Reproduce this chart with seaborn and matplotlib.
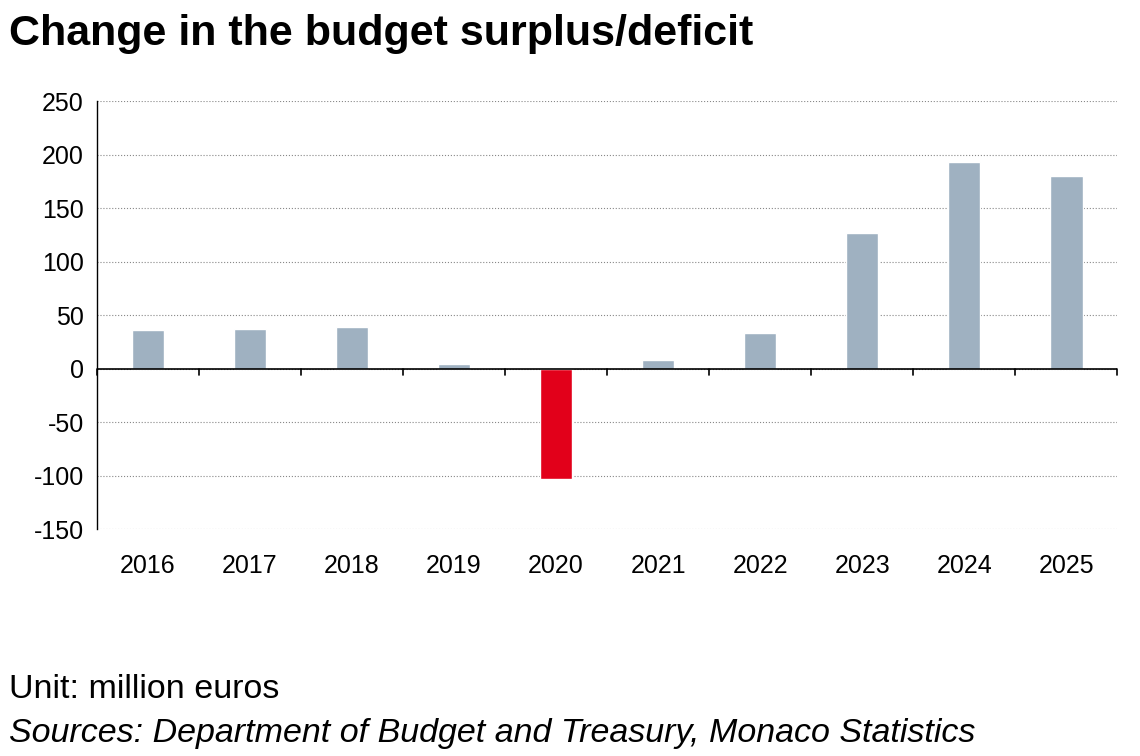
import matplotlib
matplotlib.use("Agg")
import matplotlib.pyplot as plt
import seaborn as sns
import pandas as pd

years = ["2016", "2017", "2018", "2019", "2020", "2021", "2022", "2023", "2024", "2025"]
values = [36, 37, 39, 4, -103, 8, 33, 127, 193, 180]
colors = ["#e2001a" if v < 0 else "#9fb1c1" for v in values]

df = pd.DataFrame({"year": years, "value": values})

sns.set_style("white")
plt.rcParams["font.family"] = ["Liberation Sans", "DejaVu Sans"]
plt.rcParams["axes.unicode_minus"] = False
plt.rcParams["text.color"] = "black"
plt.rcParams["xtick.color"] = "black"
plt.rcParams["ytick.color"] = "black"

fig = plt.figure(figsize=(11.4, 7.56), dpi=100)
ax = fig.add_axes([0.085, 0.300, 0.895, 0.566])

sns.barplot(data=df, x="year", y="value", hue="year", palette=colors,
            width=0.32, legend=False, ax=ax, saturation=1)

ax.set_ylim(-150, 250)
ax.set_yticks(range(-150, 251, 50))
ax.set_xlim(-0.5, len(years) - 0.5)
ax.yaxis.grid(True, linestyle=":", color="#888888", linewidth=0.8)
ax.set_axisbelow(True)
for s in ["top", "right", "bottom"]:
    ax.spines[s].set_visible(False)
ax.spines["left"].set_color("black")
ax.spines["left"].set_linewidth(1)
ax.tick_params(axis="y", direction="out", length=6, width=1, labelsize=18, color="black")
ax.tick_params(axis="x", length=0, labelsize=18, pad=18)
ax.set_xlabel("")
ax.set_ylabel("")

# zero line with category boundary ticks
ax.axhline(0, color="black", linewidth=1.2, zorder=3)
for b in range(len(years) + 1):
    ax.plot([b - 0.5, b - 0.5], [0, -6], color="black", linewidth=1.2,
            clip_on=False, zorder=3)

fig.text(0.008, 0.955, "Change in the budget surplus/deficit", fontsize=31,
         fontweight="bold", va="center")
fig.text(0.008, 0.088, "Unit: million euros", fontsize=24.5, va="center")
fig.text(0.008, 0.030, "Sources: Department of Budget and Treasury, Monaco Statistics",
         fontsize=24.5, style="italic", va="center")

fig.savefig("out.png", dpi=100)
